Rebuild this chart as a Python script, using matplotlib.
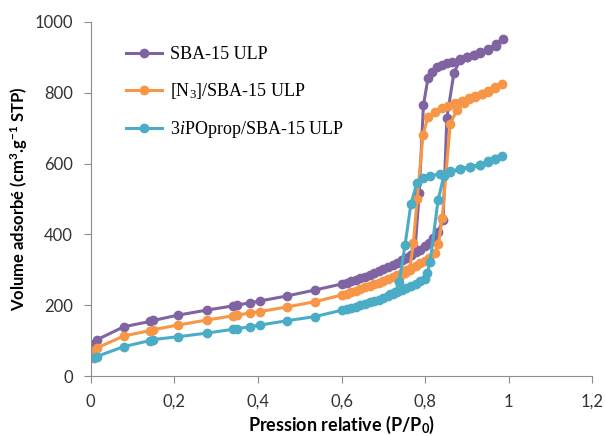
import matplotlib.pyplot as plt

# SBA-15 ULP
sba_ads_x = [0.008, 0.014, 0.079, 0.141, 0.150, 0.209, 0.277, 0.340, 0.350, 0.381, 0.405, 0.469, 0.537,
             0.601, 0.612, 0.623, 0.634, 0.645, 0.656, 0.667, 0.678, 0.689, 0.700, 0.711, 0.722, 0.733,
             0.744, 0.755, 0.766, 0.777, 0.788, 0.799, 0.810, 0.820, 0.831, 0.843, 0.852, 0.869, 0.884,
             0.900, 0.916, 0.932, 0.951, 0.970, 0.987]
sba_ads_y = [90, 102, 139, 154, 157, 172, 186, 198, 200, 207, 212, 226, 243,
             260, 264, 268, 272, 277, 281, 286, 291, 296, 302, 308, 314, 320,
             327, 334, 341, 349, 357, 366, 377, 390, 408, 440, 728, 857, 893,
             900, 906, 912, 920, 933, 952]
sba_des_x = [0.970, 0.951, 0.932, 0.916, 0.900, 0.884, 0.864, 0.852, 0.840, 0.828, 0.816, 0.807,
             0.796, 0.786, 0.776, 0.766, 0.755, 0.744]
sba_des_y = [937, 924, 914, 908, 902, 896, 888, 883, 878, 872, 860, 842,
             765, 518, 360, 342, 334, 327]

# [N3]/SBA-15 ULP
n3_ads_x = [0.008, 0.014, 0.079, 0.141, 0.150, 0.209, 0.277, 0.340, 0.350, 0.381, 0.405, 0.469, 0.537,
            0.601, 0.612, 0.623, 0.634, 0.645, 0.656, 0.667, 0.678, 0.689, 0.700, 0.711, 0.722, 0.733,
            0.744, 0.755, 0.766, 0.777, 0.788, 0.799, 0.810, 0.824, 0.832, 0.841, 0.860, 0.876, 0.892,
            0.904, 0.920, 0.936, 0.951, 0.968, 0.984]
n3_ads_y = [72, 79, 113, 128, 131, 144, 158, 170, 172, 178, 182, 195, 210,
            229, 233, 237, 241, 245, 250, 254, 259, 264, 269, 274, 280, 286,
            292, 299, 305, 312, 319, 326, 334, 347, 373, 446, 712, 751, 771,
            783, 789, 796, 803, 813, 825]
n3_des_x = [0.968, 0.951, 0.936, 0.920, 0.904, 0.888, 0.872, 0.855, 0.840, 0.824, 0.807, 0.795,
            0.781, 0.772, 0.763, 0.752, 0.741]
n3_des_y = [815, 805, 797, 790, 784, 778, 770, 763, 757, 747, 733, 681,
            500, 375, 300, 290, 283]

# 3iPOprop/SBA-15 ULP
ipo_ads_x = [0.008, 0.014, 0.079, 0.141, 0.150, 0.209, 0.277, 0.340, 0.350, 0.381, 0.405, 0.469, 0.537,
             0.601, 0.612, 0.623, 0.634, 0.645, 0.656, 0.667, 0.678, 0.689, 0.700, 0.711, 0.722, 0.733,
             0.744, 0.755, 0.766, 0.777, 0.788, 0.799, 0.805, 0.812, 0.831, 0.845, 0.860, 0.884, 0.908,
             0.932, 0.951, 0.968, 0.984]
ipo_ads_y = [50, 55, 83, 100, 103, 111, 121, 132, 134, 139, 144, 156, 168,
             186, 189, 192, 196, 200, 204, 208, 212, 216, 221, 226, 231, 236,
             242, 248, 254, 261, 268, 275, 290, 323, 497, 566, 577, 584, 590,
             596, 605, 613, 621]
ipo_des_x = [0.968, 0.951, 0.932, 0.908, 0.884, 0.860, 0.836, 0.812, 0.796, 0.780, 0.766, 0.752,
             0.738, 0.728, 0.717]
ipo_des_y = [614, 606, 597, 591, 585, 578, 571, 565, 558, 544, 486, 370,
             266, 236, 231]

labels = ['SBA-15 ULP', '[N$_3$]/SBA-15 ULP', '3$i$POprop/SBA-15 ULP']
colors = ['#8064A2', '#F79646', '#4BACC6']

x_ticks = [0, 0.2, 0.4, 0.6, 0.8, 1.0, 1.2]
x_tick_labels = ['0', '0,2', '0,4', '0,6', '0,8', '1', '1,2']
y_ticks = [0, 200, 400, 600, 800, 1000]

series = [
    (sba_ads_x + sba_des_x, sba_ads_y + sba_des_y),
    (n3_ads_x + n3_des_x, n3_ads_y + n3_des_y),
    (ipo_ads_x + ipo_des_x, ipo_ads_y + ipo_des_y),
]

plt.rcParams['font.family'] = ['Lato', 'DejaVu Sans']
plt.rcParams['mathtext.fontset'] = 'custom'
# serif math for the legend, bold sans for the axis titles
plt.rcParams['mathtext.rm'] = 'Liberation Serif'
plt.rcParams['mathtext.it'] = 'Liberation Serif:italic'
plt.rcParams['mathtext.bf'] = 'Lato:bold'

fig = plt.figure(figsize=(6.05, 4.36), dpi=100)
ax = fig.add_axes([0.150, 0.1376, 0.829, 0.812])

for (xs, ys), lab, col in zip(series, labels, colors):
    ax.plot(xs, ys, color=col, lw=2.2, marker='o', markersize=6, label=lab)

ax.set_xlim(0, 1.2)
ax.set_ylim(0, 1000)
ax.set_xticks(x_ticks)
ax.set_xticklabels(x_tick_labels)
ax.set_yticks(y_ticks)

for side in ['top', 'right']:
    ax.spines[side].set_visible(False)
for side in ['left', 'bottom']:
    ax.spines[side].set_color('#8c8c8c')
    ax.spines[side].set_linewidth(0.8)
ax.tick_params(axis='both', colors='#8c8c8c', length=5, width=0.8, labelcolor='#333333',
               labelsize=12)
ax.tick_params(axis='x', pad=8)
ax.tick_params(axis='y', pad=8)

ax.set_xlabel('Pression relative (P/P$_\\mathbf{0}$)', fontsize=13, fontweight='bold', labelpad=3)
ax.set_ylabel('Volume adsorbé (cm$^\\mathbf{3}$.g$^\\mathbf{-1}$ STP)', fontsize=12,
              fontweight='bold', labelpad=4)

ax.legend(loc='upper left', bbox_to_anchor=(0.038, 0.978), frameon=False,
          prop={'family': 'Liberation Serif', 'size': 13},
          labelspacing=1.0, handlelength=2.0, handletextpad=0.45)

fig.savefig('out.png', dpi=100)
